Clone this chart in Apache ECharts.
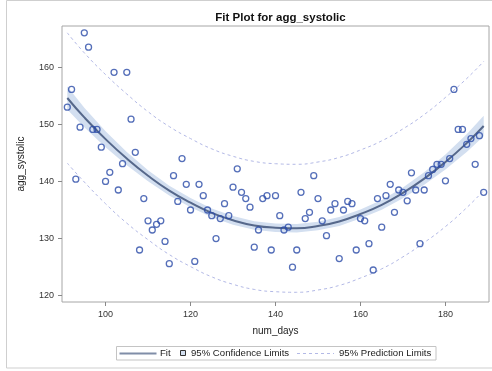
<!DOCTYPE html>
<html>
<head>
<meta charset="utf-8">
<script src="https://cdn.jsdelivr.net/npm/echarts@6/dist/echarts.min.js"></script>
<style>
html,body{margin:0;padding:0;background:#fff;}
#chart{width:492px;height:371px;}
</style>
</head>
<body>
<div id="chart"></div>
<script>
// ---- data ----
const numDays = [91,92,93,94,95,96,97,98,99,100,101,102,103,104,105,106,107,108,109,110,
  111,112,113,114,115,116,117,118,119,120,121,122,123,124,125,126,127,128,129,130,
  131,132,133,134,135,136,137,138,139,140,141,142,143,144,145,146,147,148,149,150,
  151,152,153,154,155,156,157,158,159,160,161,162,163,164,165,166,167,168,169,170,
  171,172,173,174,175,176,177,178,179,180,181,182,183,184,185,186,187,188,189];
const aggSystolic = [153.0,156.1,140.4,149.5,166.0,163.5,149.1,149.1,146.0,140.0,
  141.6,159.1,138.5,143.1,159.1,150.9,145.1,128.0,137.0,133.1,
  131.5,132.5,133.1,129.5,125.6,141.0,136.5,144.0,139.5,135.0,
  126.0,139.5,137.5,135.0,134.0,130.0,133.5,136.1,134.0,139.0,
  142.2,138.1,137.0,135.5,128.5,131.5,137.0,137.5,128.0,137.5,
  134.0,131.5,132.0,125.0,128.0,138.1,133.5,134.6,141.0,137.0,
  133.1,130.5,135.0,136.1,126.5,135.0,136.5,136.1,128.0,133.5,
  133.1,129.1,124.5,137.0,132.0,137.5,139.5,134.6,138.5,138.1,
  136.6,141.5,138.5,129.1,138.5,141.0,142.1,143.0,143.0,140.1,
  144.0,156.1,149.1,149.1,146.5,147.5,143.0,148.0,138.1];

const curveX   = [91,95,100,105,110,115,120,125,130,135,140,145,150,155,160,165,170,175,180,185,189];
const fitY     = [154.6,151.2,147.4,144.0,141.0,138.4,136.3,134.5,133.2,132.3,131.9,131.8,132.2,133.0,134.3,135.9,138.0,140.5,143.4,146.7,149.7];
const clLower  = [152.6,149.5,146.0,142.85,140.05,137.55,135.5,133.72,132.43,131.55,131.17,131.07,131.45,132.22,133.5,135.05,137.05,139.4,142.1,145.15,147.9];
const clUpper  = [156.6,152.9,148.8,145.15,141.95,139.25,137.1,135.28,133.97,133.05,132.63,132.53,132.95,133.78,135.1,136.75,138.95,141.6,144.7,148.25,151.5];
const plLower  = [143.2,139.9,136.1,132.7,129.8,127.2,125.1,123.3,122.0,121.1,120.7,120.6,121.0,121.8,123.1,124.7,126.8,129.3,132.1,135.4,138.4];
const plUpper  = [166.0,162.5,158.7,155.3,152.2,149.6,147.5,145.7,144.4,143.5,143.1,143.0,143.4,144.2,145.5,147.1,149.2,151.7,154.7,158.0,161.0];

const xTicks = [100,120,140,160,180];
const yTicks = [120,130,140,150,160];

const titleText = 'Fit Plot for agg_systolic';
const xName = 'num_days';
const yName = 'agg_systolic';
const legendNames = ['Fit','95% Confidence Limits','95% Prediction Limits'];

// ---- chart ----
const FONT = '"Liberation Sans", Arial, Helvetica, sans-serif';
const FIT_COLOR = '#56688b';
const BAND_COLOR = '#d3dff0';
const PL_COLOR = '#b3b9e6';
const MARK_COLOR = '#2a4ba8';

const pairs = (xs, ys) => xs.map((x, i) => [x, ys[i]]);

const chart = echarts.init(document.getElementById('chart'), null, {renderer: 'canvas'});

const option = {
  animation: false,
  backgroundColor: '#fff',
  title: {
    text: titleText,
    left: 275.5, top: 7, textAlign: 'center',
    textStyle: {fontFamily: FONT, fontSize: 11.5, fontWeight: 'bold', color: '#111'}
  },
  grid: {
    left: 62, top: 26, width: 427, height: 276,
    show: true, borderColor: '#a6a6a6', borderWidth: 1, backgroundColor: '#fff'
  },
  xAxis: {
    type: 'value', min: 89.75, max: 190.25,
    name: xName, nameLocation: 'middle', nameGap: 24,
    nameTextStyle: {fontFamily: FONT, fontSize: 10, color: '#222'},
    axisLine: {show: false},
    axisTick: {show: true, length: 4, customValues: xTicks, lineStyle: {color: '#888'}},
    axisLabel: {customValues: xTicks, margin: 8, fontFamily: FONT, fontSize: 9, color: '#333'},
    splitLine: {show: false}
  },
  yAxis: {
    type: 'value', min: 118.9, max: 167.2,
    name: yName, nameLocation: 'middle', nameGap: 36, nameRotate: 90,
    nameTextStyle: {fontFamily: FONT, fontSize: 10, color: '#222'},
    axisLine: {show: false},
    axisTick: {show: true, length: 4, customValues: yTicks, lineStyle: {color: '#888'}},
    axisLabel: {customValues: yTicks, margin: 8, fontFamily: FONT, fontSize: 9, color: '#333'},
    splitLine: {show: false}
  },
  series: [
    {
      name: legendNames[1],
      type: 'custom',
      z: 1,
      silent: true,
      data: [[curveX[0], clLower[0]]],
      renderItem: function (params, api) {
        const pts = [];
        for (let i = 0; i < curveX.length; i++) pts.push(api.coord([curveX[i], clUpper[i]]));
        for (let i = curveX.length - 1; i >= 0; i--) pts.push(api.coord([curveX[i], clLower[i]]));
        return {type: 'polygon', shape: {points: pts}, style: {fill: BAND_COLOR, stroke: null}};
      }
    },
    {
      name: legendNames[2] + ' upper',
      type: 'line', smooth: true, showSymbol: false, z: 2, silent: true,
      data: pairs(curveX, plUpper),
      lineStyle: {color: PL_COLOR, width: 1, type: [3, 3]}
    },
    {
      name: legendNames[2] + ' lower',
      type: 'line', smooth: true, showSymbol: false, z: 2, silent: true,
      data: pairs(curveX, plLower),
      lineStyle: {color: PL_COLOR, width: 1, type: [3, 3]}
    },
    {
      name: legendNames[0],
      type: 'line', smooth: true, showSymbol: false, z: 3, silent: true,
      data: pairs(curveX, fitY),
      lineStyle: {color: FIT_COLOR, width: 2}
    },
    {
      name: 'agg_systolic',
      type: 'scatter', z: 4,
      symbol: 'circle', symbolSize: 6,
      data: pairs(numDays, aggSystolic),
      itemStyle: {color: 'rgba(255,255,255,0)', borderColor: MARK_COLOR, borderWidth: 1.3}
    }
  ],
  graphic: [
    {type: 'rect', z: -10, shape: {x: 6.5, y: 0.5, width: 490, height: 367.5},
      style: {fill: null, stroke: '#cfcfcf', lineWidth: 1}},
    {type: 'rect', shape: {x: 116.5, y: 346.5, width: 319.5, height: 13.5},
      style: {fill: '#fff', stroke: '#c4c4c4', lineWidth: 1}},
    {type: 'line', shape: {x1: 119.5, y1: 353.5, x2: 156.5, y2: 353.5},
      style: {stroke: FIT_COLOR, lineWidth: 2, opacity: 0.75}},
    {type: 'text', x: 160, y: 353.5,
      style: {text: legendNames[0], fontFamily: FONT, fontSize: 9.6, fill: '#222', verticalAlign: 'middle', align: 'left'}},
    {type: 'rect', shape: {x: 180.5, y: 350.5, width: 5, height: 5},
      style: {fill: BAND_COLOR, stroke: '#333', lineWidth: 1}},
    {type: 'text', x: 191, y: 353.5,
      style: {text: legendNames[1], fontFamily: FONT, fontSize: 9.6, fill: '#222', verticalAlign: 'middle', align: 'left'}},
    {type: 'line', shape: {x1: 297, y1: 353.5, x2: 334, y2: 353.5},
      style: {stroke: PL_COLOR, lineWidth: 1, lineDash: [3, 3]}},
    {type: 'text', x: 339, y: 353.5,
      style: {text: legendNames[2], fontFamily: FONT, fontSize: 9.6, fill: '#222', verticalAlign: 'middle', align: 'left'}}
  ]
};
chart.setOption(option);
</script>
</body>
</html>
